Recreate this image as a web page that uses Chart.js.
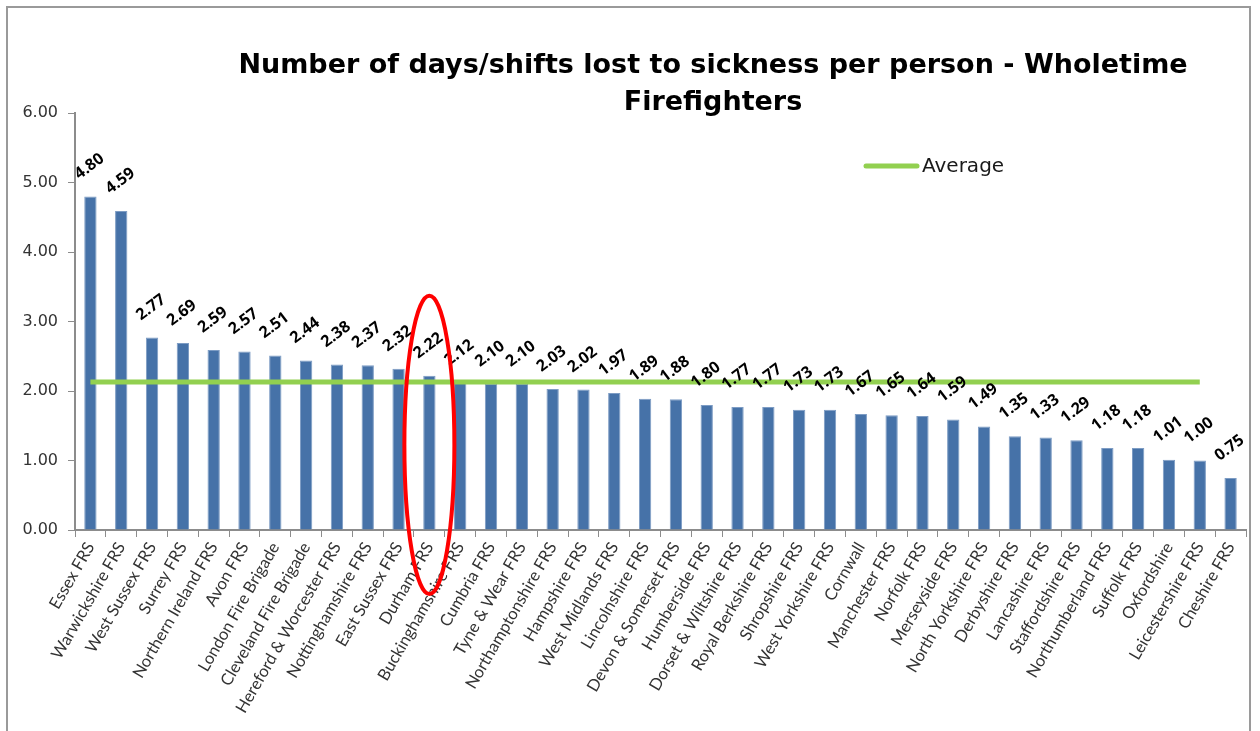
<!DOCTYPE html>
<html>
<head>
<meta charset="utf-8">
<script src="https://cdn.jsdelivr.net/npm/chart.js@4/dist/chart.umd.min.js"></script>
<style>
    html, body { margin: 0; padding: 0; background: #fff; }
    #wrap { position: relative; width: 1260px; height: 731px; overflow: hidden; }
    #frame { position: absolute; left: 6px; top: 6px; width: 1245px; height: 760px; border: 2px solid #9a9a9a; box-sizing: border-box; }
    canvas { position: absolute; left: 0; top: 0; }
</style>
</head>
<body>
<div id="wrap">
    <div id="frame"></div>
    <canvas id="sickChart" width="1260" height="731"></canvas>
</div>
<script>
// Fire & rescue services, sorted by days lost
const services = [
    'Essex FRS', 'Warwickshire FRS', 'West Sussex FRS', 'Surrey FRS', 'Northern Ireland FRS',
    'Avon FRS', 'London Fire Brigade', 'Cleveland Fire Brigade', 'Hereford & Worcester FRS',
    'Nottinghamshire FRS', 'East Sussex FRS', 'Durham FRS', 'Buckinghamshire FRS', 'Cumbria FRS',
    'Tyne & Wear FRS', 'Northamptonshire FRS', 'Hampshire FRS', 'West Midlands FRS',
    'Lincolnshire FRS', 'Devon & Somerset FRS', 'Humberside FRS', 'Dorset & Wiltshire FRS',
    'Royal Berkshire FRS', 'Shropshire FRS', 'West Yorkshire FRS', 'Cornwall', 'Manchester FRS',
    'Norfolk FRS', 'Merseyside FRS', 'North Yorkshire FRS', 'Derbyshire FRS', 'Lancashire FRS',
    'Staffordshire FRS', 'Northumberland FRS', 'Suffolk FRS', 'Oxfordshire', 'Leicestershire FRS',
    'Cheshire FRS'
];

const daysLost = [
    4.80, 4.59, 2.77, 2.69, 2.59, 2.57, 2.51, 2.44, 2.38, 2.37, 2.32, 2.22, 2.12, 2.10,
    2.10, 2.03, 2.02, 1.97, 1.89, 1.88, 1.80, 1.77, 1.77, 1.73, 1.73, 1.67, 1.65, 1.64,
    1.59, 1.49, 1.35, 1.33, 1.29, 1.18, 1.18, 1.01, 1.00, 0.75
];

// Average line as drawn (stops at Leicestershire)
const averageLine = [
    2.13, 2.13, 2.13, 2.13, 2.13, 2.13, 2.13, 2.13, 2.13, 2.13, 2.13, 2.13, 2.13, 2.13,
    2.13, 2.13, 2.13, 2.13, 2.13, 2.13, 2.13, 2.13, 2.13, 2.13, 2.13, 2.13, 2.13, 2.13,
    2.13, 2.13, 2.13, 2.13, 2.13, 2.13, 2.13, 2.13, 2.13, null
];

const yTicks = [0, 1, 2, 3, 4, 5, 6];
const titleLines = ['Number of days/shifts lost to sickness per person - Wholetime', 'Firefighters'];
const highlightIndex = 11; // Durham FRS

const BAR_BLUE = '#4672a8';
const AVG_GREEN = '#92d050';

// Title, legend, value labels and the red highlight ring
const decorPlugin = {
    id: 'decor',
    afterDatasetsDraw(chart) {
        const ctx = chart.ctx;
        const meta = chart.getDatasetMeta(1);
        ctx.save();
        ctx.font = 'bold 16px "Open Sans", "DejaVu Sans", sans-serif';
        ctx.fillStyle = '#000';
        ctx.textAlign = 'center';
        ctx.textBaseline = 'middle';
        meta.data.forEach(function(bar, i) {
            ctx.save();
            ctx.translate(bar.x - 1, bar.y - 30);
            ctx.rotate(-37 * Math.PI / 180);
            ctx.fillText(daysLost[i].toFixed(2), 0, 0);
            ctx.restore();
        });
        ctx.restore();
    },
    afterDraw(chart) {
        const ctx = chart.ctx;
        const area = chart.chartArea;
        const x = chart.scales.x;
        const y = chart.scales.y;
        ctx.save();

        // title
        ctx.fillStyle = '#000';
        ctx.textAlign = 'center';
        ctx.textBaseline = 'middle';
        ctx.font = 'bold 27px "DejaVu Sans", sans-serif';
        ctx.fillText(titleLines[0], 713, 66);
        ctx.fillText(titleLines[1], 713, 103);

        // legend
        ctx.strokeStyle = AVG_GREEN;
        ctx.lineWidth = 5;
        ctx.lineCap = 'round';
        ctx.beginPath();
        ctx.moveTo(866, 166);
        ctx.lineTo(917, 166);
        ctx.stroke();
        ctx.fillStyle = '#1a1a1a';
        ctx.textAlign = 'left';
        ctx.font = '20px "DejaVu Sans", sans-serif';
        ctx.fillText('Average', 922, 167);

        // red ring round Durham
        const cx = x.getPixelForValue(highlightIndex);
        const top = y.getPixelForValue(3.37);
        const bottom = area.bottom + 64;
        ctx.strokeStyle = '#ff0000';
        ctx.lineWidth = 4;
        ctx.beginPath();
        ctx.ellipse(cx, (top + bottom) / 2, 25, (bottom - top) / 2, 0, 0, Math.PI * 2);
        ctx.stroke();
        ctx.restore();
    }
};

new Chart(document.getElementById('sickChart'), {
    type: 'bar',
    data: {
        labels: services,
        datasets: [
            {
                type: 'line',
                label: 'Average',
                data: averageLine,
                borderColor: AVG_GREEN,
                borderWidth: 5,
                pointRadius: 0,
                fill: false,
                order: 0
            },
            {
                label: 'Days lost',
                data: daysLost,
                backgroundColor: BAR_BLUE,
                borderColor: '#7d9cc4',
                borderWidth: 1,
                categoryPercentage: 1,
                barPercentage: 0.4,
                order: 1
            }
        ]
    },
    options: {
        responsive: false,
        animation: false,
        layout: { padding: { left: 0, top: 113, right: 14, bottom: 0 } },
        plugins: {
            legend: { display: false },
            title: { display: false },
            tooltip: { enabled: false }
        },
        scales: {
            x: {
                offset: true,
                grid: { offset: true, drawOnChartArea: false, color: '#8c8c8c', tickLength: 7 },
                border: { color: '#8c8c8c', width: 2 },
                ticks: {
                    autoSkip: false,
                    minRotation: 60,
                    maxRotation: 60,
                    color: '#333',
                    padding: 2,
                    font: { family: 'Lato, "DejaVu Sans", sans-serif', size: 16.5 }
                },
                afterFit(scale) { scale.height = 201; }
            },
            y: {
                min: 0,
                max: 6,
                afterBuildTicks(scale) { scale.ticks = yTicks.map(v => ({ value: v })); },
                grid: { drawOnChartArea: false, color: '#8c8c8c', tickLength: 7 },
                border: { color: '#8c8c8c', width: 2 },
                ticks: {
                    color: '#333',
                    padding: 10,
                    font: { family: '"DejaVu Sans", sans-serif', size: 16 },
                    callback: v => Number(v).toFixed(2)
                },
                afterFit(scale) { scale.width = 75; }
            }
        }
    },
    plugins: [decorPlugin]
});
</script>
</body>
</html>
